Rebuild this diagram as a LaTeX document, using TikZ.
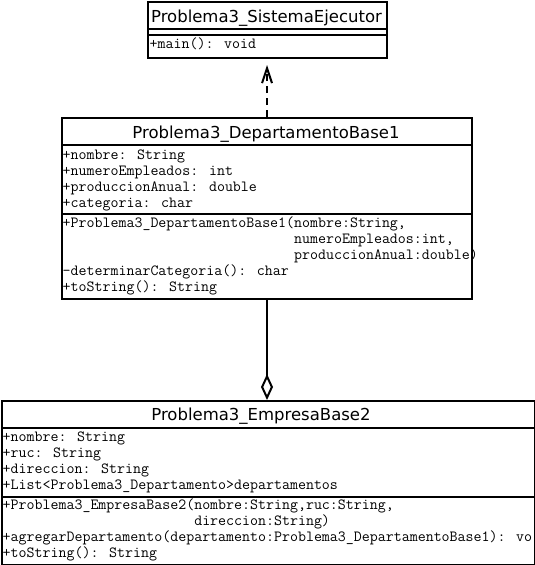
\documentclass[tikz,border=0pt]{standalone}
\usepackage{fontspec}
\newfontfamily\umlsans{DejaVu Sans}
\usetikzlibrary{arrows.meta,calc}
\begin{document}
\begin{tikzpicture}[x=1pt,y=-1pt,
  box/.style={draw=black, line width=2pt, rectangle, inner sep=0pt, anchor=north west, fill=white},
  sepline/.style={line width=2pt},
  ttl/.style={font=\umlsans\fontsize{16.5}{18}\selectfont, inner sep=0pt, anchor=base},
  row/.style={font=\ttfamily\fontsize{15.5}{17}\selectfont, inner sep=0pt, anchor=base west},
  dep/.style={line width=2pt, dash pattern=on 7pt off 5pt, -{Straight Barb[length=15pt,width=10pt,line width=2pt]}},
  agg/.style={line width=2pt, -{Diamond[open,length=26pt,width=12pt,line width=2pt]}}
]
\useasboundingbox (0,0) rectangle (535,565);
\fill[white] (0,0) rectangle (535,565);

% Problema3_SistemaEjecutor
\node[box, minimum width=239pt, minimum height=56pt] (sis) at (147,1) {};
\draw[sepline] (147,29) -- (386,29);
\draw[sepline] (147,35) -- (386,35);
\node[ttl] (sisT) at (266.5,22) {Problema3\_SistemaEjecutor};
\node[row] (sisM1) at (149.5,48.5) {+main(): void};

% Problema3_DepartamentoBase1
\node[box, minimum width=410pt, minimum height=181pt] (mid) at (61,117) {};
\draw[sepline] (61,145) -- (471,145);
\draw[sepline] (61,214) -- (471,214);
\node[ttl] (midT) at (266,138) {Problema3\_DepartamentoBase1};
\node[row] (midA1) at (62.5,159.5) {+nombre: String};
\node[row] (midA2) at (62.5,175.5) {+numeroEmpleados: int};
\node[row] (midA3) at (62.5,191.5) {+produccionAnual: double};
\node[row] (midA4) at (62.5,207.5) {+categoria: char};
\node[row] (midM1) at (62.5,227.5) {+Problema3\_DepartamentoBase1(nombre:String,};
\node[row] (midM2) at (62.5,243.5) {\hphantom{+Problema3\_DepartamentoBase1(}numeroEmpleados:int,};
\node[row] (midM3) at (62.5,259.5) {\hphantom{+Problema3\_DepartamentoBase1(}produccionAnual:double)};
\node[row] (midM4) at (62.5,275.5) {-determinarCategoria(): char};
\node[row] (midM5) at (62.5,291.5) {+toString(): String};

% Problema3_EmpresaBase2
\node[box, minimum width=533pt, minimum height=164pt] (emp) at (1,400) {};
\draw[sepline] (1,428) -- (534,428);
\draw[sepline] (1,497) -- (534,497);
\node[ttl] (empT) at (261,420) {Problema3\_EmpresaBase2};
\node[row] (empA1) at (2.5,441.5) {+nombre: String};
\node[row] (empA2) at (2.5,457.5) {+ruc: String};
\node[row] (empA3) at (2.5,473.5) {+direccion: String};
\node[row] (empA4) at (2.5,489.5) {+List<Problema3\_Departamento>departamentos};
\node[row] (empM1) at (2.5,509.5) {+Problema3\_EmpresaBase2(nombre:String,ruc:String,};
\node[row] (empM2) at (2.5,525.5) {\hphantom{+Problema3\_EmpresaBase2(}direccion:String)};
\node[row] (empM3) at (2.5,541.5) {+agregarDepartamento(departamento:Problema3\_DepartamentoBase1): vo};
\node[row] (empM4) at (2.5,557.5) {+toString(): String};

% connectors
\coordinate (deptip) at ($(mid.north |- sis.south)+(0,6)$);
\draw[dep] (mid.north) -- (deptip);
\draw[agg] (mid.south) -- (mid.south |- emp.north);
\end{tikzpicture}
\end{document}
